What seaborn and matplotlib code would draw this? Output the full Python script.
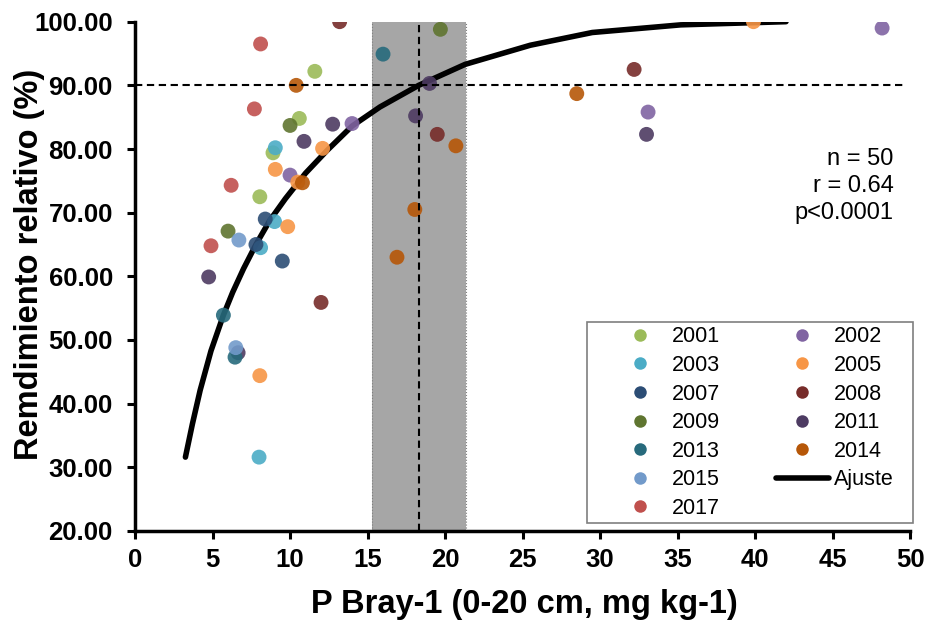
import numpy as np
import pandas as pd
import matplotlib
matplotlib.use("Agg")
import matplotlib.pyplot as plt
import seaborn as sns
from matplotlib.lines import Line2D
from matplotlib.patches import Rectangle
from matplotlib.ticker import FormatStrFormatter

# Years and their colours (Excel-like palette)
years = ["2001", "2002", "2003", "2005", "2007", "2008", "2009",
         "2011", "2013", "2014", "2015", "2017"]
colors = ["#9BBB59", "#8064A2", "#4BACC6", "#F79646", "#2C4D75", "#772C2A",
          "#5F7530", "#4D3B62", "#276A7C", "#B65708", "#729ACA", "#C0504D"]

# Points: year, P Bray-1 (mg/kg), relative yield (%)
point_year = (["2001"] * 4 + ["2002"] * 4 + ["2003"] * 4 + ["2005"] * 6 +
              ["2007"] * 3 + ["2008"] * 4 + ["2009"] * 3 + ["2011"] * 7 +
              ["2013"] * 3 + ["2014"] * 6 + ["2015"] * 2 + ["2017"] * 4)
p_bray = [11.6, 10.6, 8.9, 8.05,
          14.0, 10.0, 33.1, 48.2,
          9.05, 9.0, 8.1, 8.0,
          12.1, 9.05, 10.5, 9.85, 8.05, 39.9,
          8.4, 7.8, 9.5,
          13.2, 12.0, 19.5, 32.2,
          10.0, 6.0, 19.7,
          12.75, 10.9, 4.75, 6.65, 18.1, 19.0, 33.0,
          5.7, 6.45, 16.0,
          10.4, 10.8, 20.7, 18.05, 16.9, 28.5,
          6.7, 6.5,
          8.1, 7.7, 6.2, 4.9]
rend_rel = [92.2, 84.8, 79.4, 72.5,
            84.0, 75.9, 85.8, 99.0,
            80.2, 68.6, 64.5, 31.6,
            80.1, 76.8, 74.8, 67.8, 44.4, 100.0,
            69.0, 65.0, 62.4,
            100.0, 55.9, 82.3, 92.5,
            83.7, 67.1, 98.8,
            83.9, 81.2, 59.9, 48.0, 85.2, 90.3, 82.3,
            53.9, 47.3, 94.9,
            90.0, 74.7, 80.5, 70.5, 63.0, 88.7,
            65.7, 48.8,
            96.5, 86.3, 74.3, 64.8]

# Fitted curve ("Ajuste")
fit_x = [3.25, 3.7, 4.2, 4.9, 5.7, 6.3, 7.0, 7.8, 8.7, 9.7, 11.0, 12.4,
         14.0, 15.8, 18.3, 21.3, 25.5, 29.5, 35.2, 42.0]
fit_y = [31.6, 36.8, 42.1, 48.3, 53.9, 57.5, 61.2, 65.0, 68.8, 72.2, 76.2,
         79.8, 83.6, 86.6, 90.0, 93.3, 96.3, 98.3, 99.5, 100.0]

# Critical level and its interval
ic_low, ic_high = 15.3, 21.35
p_critico = 18.3
rend_ref = 90

sns.set_theme(style="ticks")
plt.rcParams["font.family"] = ["Liberation Sans", "DejaVu Sans"]
plt.rcParams["text.color"] = "black"
plt.rcParams["axes.labelcolor"] = "black"

df = pd.DataFrame({"Año": point_year, "P": p_bray, "RR": rend_rel})

fig = plt.figure(figsize=(9.32, 6.23), dpi=100)
ax = fig.add_axes([0.1449, 0.1477, 0.8315, 0.8175])

# interval band
ax.axvspan(ic_low, ic_high, color="#A6A6A6", lw=0, zorder=1)
for xv in (ic_low, ic_high):
    ax.axvline(xv, color="#808080", lw=0.8, ls=":", zorder=1.5)

sns.lineplot(x=fit_x, y=fit_y, sort=False, color="black", linewidth=4,
             solid_capstyle="round", solid_joinstyle="round", legend=False,
             ax=ax, zorder=2)
sns.scatterplot(data=df, x="P", y="RR", hue="Año", hue_order=years,
                palette=colors, s=115, alpha=0.9, linewidth=0,
                legend=False, ax=ax, zorder=3)

ax.axhline(rend_ref, xmin=0, xmax=0.992, color="black", lw=1.5,
           ls=(0, (3.5, 2.2)), zorder=4)
ax.axvline(p_critico, color="black", lw=1.5, ls=(0, (3.5, 2.2)), zorder=4)

ax.set_xlim(0, 50)
ax.set_ylim(20, 100)
ax.set_xticks(range(0, 51, 5))
ax.set_yticks(range(20, 101, 10))
ax.yaxis.set_major_formatter(FormatStrFormatter("%.2f"))
ax.tick_params(labelsize=18.5, width=2.2, length=6, colors="black")
ax.tick_params(axis="x", pad=6)
ax.tick_params(axis="y", pad=10)
for lbl in ax.get_xticklabels() + ax.get_yticklabels():
    lbl.set_fontweight("bold")

for side in ["top", "right"]:
    ax.spines[side].set_visible(False)
for side in ["left", "bottom"]:
    ax.spines[side].set_linewidth(2.5)
    ax.spines[side].set_color("black")

ax.set_xlabel("P Bray-1 (0-20 cm, mg kg-1)", fontsize=23.5, fontweight="bold")
ax.set_ylabel("Remdimiento relativo (%)", fontsize=23.5, fontweight="bold")
ax.xaxis.set_label_coords(0.502, -0.114)
ax.yaxis.set_label_coords(-0.116, 0.524)

ax.text(0.979, 0.752, "n = 50\nr = 0.64\np<0.0001", transform=ax.transAxes,
        ha="right", va="top", fontsize=17, linespacing=1.3)

# legend, laid out in two columns like the original
marks = {y: Line2D([], [], marker="o", ls="", color=c, markersize=9,
                   markeredgewidth=0) for y, c in zip(years, colors)}
col1 = ["2001", "2003", "2007", "2009", "2013", "2015", "2017"]
col2 = ["2002", "2005", "2008", "2011", "2014"]
handles = [marks[y] for y in col1] + [marks[y] for y in col2]
handles.append(Line2D([], [], color="black", lw=4))
labels = col1 + col2 + ["Ajuste"]
leg = ax.legend(handles, labels, ncol=2, loc="lower right",
                bbox_to_anchor=(0.9845, 0.0157), borderaxespad=0,
                fontsize=15.5, frameon=False, handlelength=2.45,
                handletextpad=0.25, columnspacing=2.6, labelspacing=0.35,
                borderpad=0.2)

# legend frame: wider at the sides than on top/bottom
fig.canvas.draw()
bb = leg.get_window_extent().transformed(fig.transFigure.inverted())
pad_l, pad_r = 22 / 932, 15 / 932
fig.add_artist(Rectangle((bb.x0 - pad_l, bb.y0), bb.width + pad_l + pad_r,
                         bb.height, transform=fig.transFigure, fill=False,
                         edgecolor="#7f7f7f", lw=1.2, zorder=5))

fig.savefig("out.png", dpi=100)
